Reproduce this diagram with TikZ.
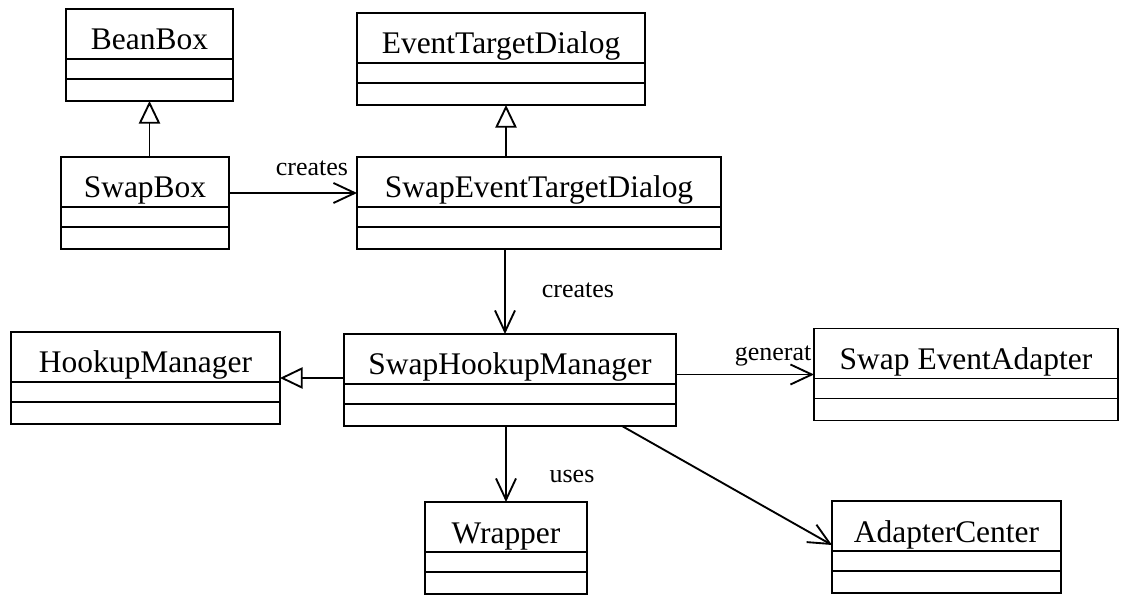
\documentclass[tikz,border=0pt]{standalone}
\usepackage{fontspec}
\setmainfont{Liberation Serif}
\usepackage{tikz}
\usetikzlibrary{arrows.meta,calc,positioning}
\tikzstyle{classbox} = [draw, rectangle, line width=1.4pt, outer sep=0pt, inner sep=0pt, minimum height=69pt]
\tikzstyle{classname} = [inner sep=0pt, anchor=base, font=\fontsize{23.6}{28}\selectfont]
\tikzstyle{compline} = [line width=1.4pt]
\tikzstyle{relname} = [inner sep=0pt, anchor=base, font=\fontsize{19.5}{23}\selectfont]
\tikzstyle{inherit} = [line width=1.4pt, -{Triangle[open,length=17pt,width=16pt]}]
\tikzstyle{assoc} = [line width=1.4pt, -{Straight Barb[length=16pt,width=15pt]}]
% class box: name, centre, width (px), title
\newcommand{\umlclass}[4]{%
  \node[classbox, minimum width=#3*0.75pt] (#1) at #2 {};
  \node[classname] (#1-name) at ($(#1.north)+(0,41)$) {#4};
  \draw[compline] ($(#1.north west)+(0,50)$) -- ($(#1.north east)+(0,50)$);
  \draw[compline] ($(#1.north west)+(0,70)$) -- ($(#1.north east)+(0,70)$);
}

\begin{document}
\begin{tikzpicture}[x=0.75pt, y=-0.75pt]
\useasboundingbox (0,0) rectangle (1122,595);

% classes
\umlclass{BeanBox}{(149.5,55)}{167}{BeanBox}
\umlclass{SwapBox}{(145,203)}{168}{SwapBox}
\umlclass{EventTargetDialog}{(501,59)}{288}{EventTargetDialog}
\umlclass{SwapETDialog}{(539,203)}{364}{SwapEventTargetDialog}
\umlclass{HookupManager}{(145.5,378)}{269}{HookupManager}
\umlclass{SwapHookupManager}{(510,380)}{332}{SwapHookupManager}
\umlclass{SwapEventAdapter}{(966,374.5)}{304}{Swap EventAdapter}
\umlclass{Wrapper}{(506,548)}{162}{Wrapper}
\umlclass{AdapterCenter}{(946.5,547)}{229}{AdapterCenter}

% generalizations
\draw[inherit] (SwapBox.north -| BeanBox.south) -- (BeanBox.south);
\draw[inherit] ($(SwapETDialog.north)+(-33,0)$) -- ($(EventTargetDialog.south)+(5,0)$);
\draw[inherit] (SwapHookupManager.west |- HookupManager.east) -- (HookupManager.east);

% associations
\draw[assoc] ($(SwapBox.east)+(0,-10)$) -- ($(SwapETDialog.west)+(0,-10)$);
\draw[assoc] ($(SwapETDialog.south)+(-34,0)$) -- ($(SwapHookupManager.north)+(-5,0)$);
\draw[assoc] (SwapHookupManager.east |- SwapEventAdapter.west) -- (SwapEventAdapter.west);
\draw[assoc] (SwapHookupManager.south -| Wrapper.north) -- (Wrapper.north);
\draw[assoc] ($(SwapHookupManager.south)+(112,0)$) -- ($(AdapterCenter.west)+(0,-2)$);

% labels
\node[relname] (lblCreatesDialog) at (312,176) {creates};
\node[relname] (lblCreatesManager) at (578,298) {creates};
\node[relname] (lblGenerates) at (773,361) {generat};
\node[relname] (lblUses) at (572,483) {uses};
\end{tikzpicture}
\end{document}
